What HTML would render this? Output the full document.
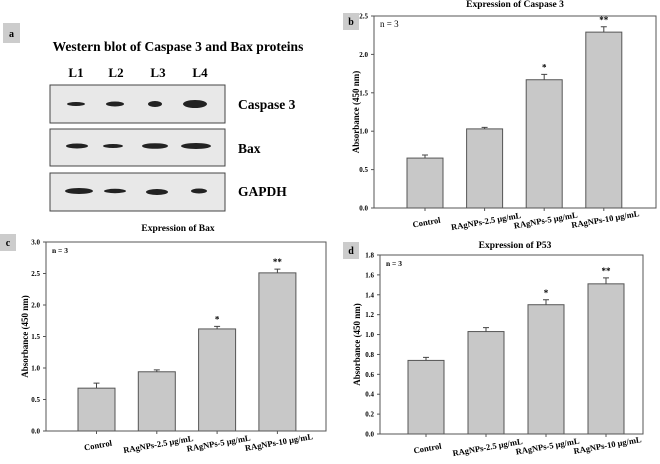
<!DOCTYPE html>
<html><head><meta charset="utf-8">
<style>
html,body{margin:0;padding:0;background:#fff;}
svg{display:block;font-family:"Liberation Serif",serif;}
</style></head>
<body>
<svg id="fig" width="660" height="464" viewBox="0 0 660 464">
  <g>
    <rect x="3" y="23" width="17" height="20" fill="#ccc"/>
    <text x="11.5" y="37" font-size="10" font-weight="bold" text-anchor="middle">a</text>
    <text x="178" y="51" font-size="13.5" font-weight="bold" text-anchor="middle">Western blot of Caspase 3 and Bax proteins</text>
    <text x="76" y="77" font-size="13" font-weight="bold" text-anchor="middle">L1</text>
    <text x="116" y="77" font-size="13" font-weight="bold" text-anchor="middle">L2</text>
    <text x="158" y="77" font-size="13" font-weight="bold" text-anchor="middle">L3</text>
    <text x="200" y="77" font-size="13" font-weight="bold" text-anchor="middle">L4</text>
    <rect x="50" y="85" width="175" height="38" fill="#e8e8e8" stroke="#444"/>
    <rect x="50" y="129" width="175" height="37" fill="#e8e8e8" stroke="#444"/>
    <rect x="50" y="173" width="175" height="38" fill="#e8e8e8" stroke="#444"/>
    <g fill="#222">
      <ellipse cx="76" cy="104" rx="9" ry="2"/><ellipse cx="115" cy="104" rx="9" ry="2.5"/><ellipse cx="155" cy="104" rx="7" ry="3"/><ellipse cx="195" cy="104" rx="12" ry="4"/>
      <ellipse cx="77" cy="146" rx="11" ry="2.5"/><ellipse cx="113" cy="146" rx="10" ry="2"/><ellipse cx="155" cy="146" rx="13" ry="2.8"/><ellipse cx="196" cy="146" rx="15" ry="3"/>
      <ellipse cx="79" cy="191" rx="14" ry="3"/><ellipse cx="115" cy="191" rx="11" ry="2.2"/><ellipse cx="157" cy="192" rx="11" ry="3"/><ellipse cx="199" cy="191" rx="8" ry="2.5"/>
    </g>
    <text x="238" y="109" font-size="13.5" font-weight="bold">Caspase 3</text>
    <text x="238" y="153" font-size="13.5" font-weight="bold">Bax</text>
    <text x="238" y="196" font-size="13.5" font-weight="bold">GAPDH</text>
  </g>
</svg>
<script>
const categories=["Control","RAgNPs-2.5 μg/mL","RAgNPs-5 μg/mL","RAgNPs-10 μg/mL"];
const categoriesBax=["Control","RAgNPs-2.5 \u03BCg/mL","RAgNPs-5 \u03BCg/mL","RAgNPs-10 \u03BCg/mL"];
const caspaseValues=[0.65,1.03,1.67,2.29];
const caspaseErrors=[0.04,0.02,0.07,0.07];
const caspaseTicks=["0.0","0.5","1.0","1.5","2.0","2.5"];
const baxValues=[0.68,0.94,1.62,2.51];
const baxErrors=[0.08,0.03,0.04,0.06];
const baxTicks=["0.0","0.5","1.0","1.5","2.0","2.5","3.0"];
const p53Values=[0.74,1.03,1.30,1.51];
const p53Errors=[0.03,0.04,0.05,0.06];
const p53Ticks=["0.0","0.2","0.4","0.6","0.8","1.0","1.2","1.4","1.6","1.8"];
const stars=["","","*","**"];

const NS="http://www.w3.org/2000/svg";
const svg=document.getElementById('fig');
function mk(tag,attrs,parent,text){const e=document.createElementNS(NS,tag);for(const k in attrs)e.setAttribute(k,attrs[k]);if(text!==undefined)e.textContent=text;parent.appendChild(e);return e;}

function chart(o){
  const g=mk('g',{},svg);
  
  
  const ymax=parseFloat(o.ticks[o.ticks.length-1]);
  const y=v=>o.bottom-(v/ymax)*(o.bottom-o.top);
  const x=i=>o.bar0+i*o.step;
  const frame=mk('rect',{x:o.left,y:o.top,width:o.right-o.left,height:o.bottom-o.top,fill:'none',stroke:'#555','stroke-width':1},g);
  
  
  o.ticks.forEach(t=>{
    const v=parseFloat(t);
    mk('line',{x1:o.left-3,x2:o.left,y1:y(v),y2:y(v),stroke:'#555'},g);
    const tl=mk('text',{x:o.left-6,y:y(v)+2.5,'font-size':7,'font-weight':'bold','text-anchor':'end'},g,t);
    
    
  });
  const yt=mk('text',{transform:`translate(${o.ylabX},${(o.top+o.bottom)/2}) rotate(-90)`,'font-size':9,'font-weight':'bold','text-anchor':'middle'},g,'Absorbance (450 nm)');
  
  
  const tt=mk('text',{x:o.titleX,y:o.titleY,'font-size':9.5,'font-weight':'bold','text-anchor':'middle'},g,o.title);
  
  
  const nt=mk('text',{x:o.left+6,y:o.top+11,'font-size':o.nBold?7.5:9,'font-weight':o.nBold?'bold':'normal'},g,'n = 3');
  
  
  o.values.forEach((v,i)=>{
    const bx=x(i);
    const b=mk('rect',{x:bx,y:y(v),width:o.bw,height:o.bottom-y(v),fill:'#c8c8c8',stroke:'#555','stroke-width':1},g);
    
    
    const cx=bx+o.bw/2, ye=y(v+o.errors[i]);
    const e=mk('path',{d:`M${cx},${y(v)}V${ye}M${cx-3},${ye}H${cx+3}`,stroke:'#444',fill:'none'},g);
    
    
    mk('line',{x1:cx,x2:cx,y1:o.bottom,y2:o.bottom+3,stroke:'#555'},g);
    if(stars[i]){
      const s=mk('text',{x:cx,y:ye-4,'font-size':9,'font-weight':'bold','text-anchor':'middle'},g,stars[i]);
      
      
    }
    const xl=mk('text',{transform:`translate(${cx+2},${o.bottom+17-i*1}) rotate(-10)`,'font-size':8.5,'font-weight':'bold','text-anchor':'middle'},g,o.cats[i]);
    
    
  });
  const lb=mk('rect',{x:o.lab[0],y:o.lab[1],width:16,height:17,fill:'#ccc'},g);
  
  
  const lt=mk('text',{x:o.lab[0]+8,y:o.lab[1]+12,'font-size':10,'font-weight':'bold','text-anchor':'middle'},g,o.letter);
  
  
}
chart({name:'panel-b-caspase3-chart',title:'Expression of Caspase 3',titleX:515,titleY:7,letter:'b',lab:[343,13],left:374,right:656,top:16,bottom:208,bar0:407,step:59.6,bw:36,values:caspaseValues,errors:caspaseErrors,ticks:caspaseTicks,cats:categories,ylabX:359,nBold:false});
chart({name:'panel-c-bax-chart',title:'Expression of Bax',titleX:178,titleY:231,letter:'c',lab:[0,234],left:46,right:326,top:242,bottom:431,bar0:78,step:60.3,bw:37,values:baxValues,errors:baxErrors,ticks:baxTicks,cats:categoriesBax,ylabX:28,nBold:true});
chart({name:'panel-d-p53-chart',title:'Expression of P53',titleX:515,titleY:248,letter:'d',lab:[343,242],left:380,right:643,top:255,bottom:434,bar0:408,step:60,bw:36,values:p53Values,errors:p53Errors,ticks:p53Ticks,cats:categories,ylabX:360,nBold:true});
</script>
</body></html>
